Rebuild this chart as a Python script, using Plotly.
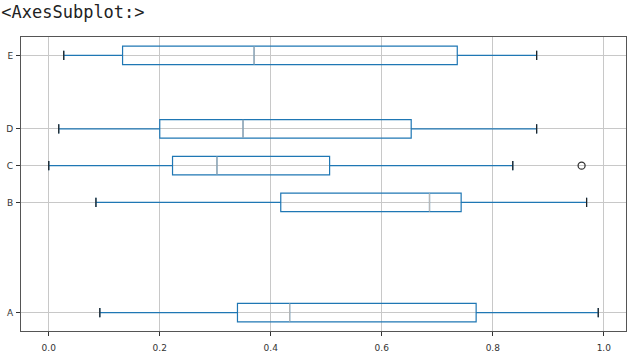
import plotly.graph_objects as go

labels = ["A", "B", "C", "D", "E"]
positions = [1, 4, 5, 6, 8]
lower = [0.092, 0.085, 0.000, 0.018, 0.027]
q1 = [0.340, 0.418, 0.223, 0.200, 0.133]
median = [0.434, 0.686, 0.303, 0.350, 0.370]
q3 = [0.770, 0.743, 0.506, 0.653, 0.736]
upper = [0.990, 0.969, 0.836, 0.879, 0.879]
outlier_label = ["C"]
outlier_value = [0.960]
x_ticks = [0.0, 0.2, 0.4, 0.6, 0.8, 1.0]

BLUE = "#1f77b4"
box_w = 0.5
cap_half = box_w / 4

fig = go.Figure()
fig.add_trace(go.Box(
    y=positions, q1=q1, median=median, q3=q3,
    lowerfence=lower, upperfence=upper,
    orientation="h", width=box_w, whiskerwidth=0.5,
    line=dict(color=BLUE, width=1.2), fillcolor="rgba(0,0,0,0)",
    boxpoints=False, hoverinfo="skip", showlegend=False,
))

# median lines (grey) and caps (black)
mx, my, cx, cy = [], [], [], []
for p, m, lo, hi in zip(positions, median, lower, upper):
    mx += [m, m, None]
    my += [p - box_w / 2, p + box_w / 2, None]
    for v in (lo, hi):
        cx += [v, v, None]
        cy += [p - cap_half, p + cap_half, None]
fig.add_trace(go.Scatter(x=mx, y=my, mode="lines", line=dict(color="#b8b8b8", width=1.2),
                         showlegend=False, hoverinfo="skip"))
fig.add_trace(go.Scatter(x=cx, y=cy, mode="lines", line=dict(color="#222222", width=1.2),
                         showlegend=False, hoverinfo="skip"))

pos_map = dict(zip(labels, positions))
fig.add_trace(go.Scatter(
    x=outlier_value, y=[pos_map[l] for l in outlier_label], mode="markers",
    marker=dict(symbol="circle-open", size=7, color="#333333", line=dict(width=1.3)),
    showlegend=False, hoverinfo="skip",
))

axis_common = dict(showline=True, linecolor="#555555", linewidth=1.2, mirror=True,
                   showgrid=True, gridcolor="#c8c8c8", gridwidth=1, automargin=False,
                   ticks="outside", ticklen=4, tickcolor="#333333", zeroline=False,
                   tickfont=dict(family="DejaVu Sans", size=9, color="#333333"))

fig.update_layout(
    width=635, height=362,
    margin=dict(l=21, r=9, t=37, b=31),
    plot_bgcolor="white", paper_bgcolor="white",
    xaxis=dict(range=[-0.05, 1.04], tickvals=x_ticks, ticklabelstandoff=4,
               ticktext=[f"{v:.1f}" for v in x_ticks], **axis_common),
    yaxis=dict(range=[0.5, 8.5], tickvals=positions, ticktext=labels,
               ticklabelstandoff=1, **axis_common),
    title=dict(text="&lt;AxesSubplot:&gt;", xref="container", yref="container",
               x=0.002, y=0.984, xanchor="left", yanchor="top", automargin=False,
               pad=dict(t=0, l=0, r=0, b=0),
               font=dict(family="DejaVu Sans Mono", size=17, color="#222222")),
)
fig.write_html("out.html", config={"displayModeBar": False},
               post_script="document.body.style.margin='0';")
